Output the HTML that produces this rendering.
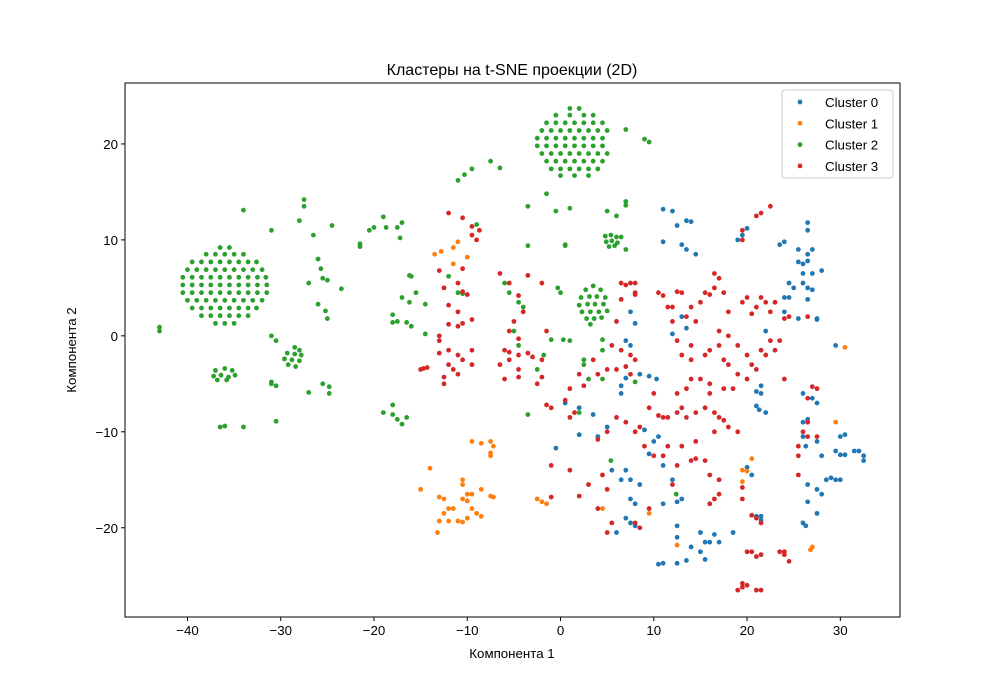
<!DOCTYPE html>
<html><head><meta charset="utf-8"><style>
body{margin:0;background:#fff;}
svg{display:block;font-family:"Liberation Sans","DejaVu Sans",sans-serif;}
</style></head><body>
<svg id="chart" width="1000" height="693" viewBox="0 0 1000 693">
<rect width="1000" height="693" fill="#fff"/>
<text x="512" y="75" text-anchor="middle" font-size="16">Кластеры на t-SNE проекции (2D)</text>
<g id="points"></g>
<rect x="125" y="83" width="775" height="534" fill="none" stroke="#000" stroke-width="1"/>
<g id="xticks"></g>
<g id="yticks"></g>
<text x="512" y="658" text-anchor="middle" font-size="13.3">Компонента 1</text>
<text transform="translate(76,350) rotate(-90)" text-anchor="middle" font-size="13.3">Компонента 2</text>
<g id="legend">
<rect x="782" y="90" width="111" height="88" rx="3" fill="#fff" fill-opacity="0.8" stroke="#ccc"/>
</g>
</svg>
<script>
const xTicks=[-40,-30,-20,-10,0,10,20,30];
const yTicks=[-20,-10,0,10,20];
const seriesNames=["Cluster 0","Cluster 1","Cluster 2","Cluster 3"];
const cluster0="11,13.2 12,13 12.5,11.5 13.5,12 14,11.9 11,9.8 13,9.5 13.5,9 14.5,8.5 12,0.2 13.5,0.8 13,2 7.5,2.5 8,1.3 7,-0.5 7.5,-1 8.5,-4 9.5,-4.2 10.3,-4.5 7,-4.4 6.5,-6 6.5,-5.2 5,-9.5 3.5,-8.2 2,-7.5 0.5,-7 -0.5,-11.7 4,-10.5 2,-10.3 9,-9.8 9.5,-12.3 10.5,-10.5 10,-11 11,-13.5 7,-14 7.5,-15 8.5,-15.5 6.5,-15 5.5,-14 7.5,-17 8,-17.5 7,-19 7.5,-19.5 8,-19.8 6,-20.5 12,-15 12.5,-17.3 13,-17 11,-17.5 12.5,-19.8 12.5,-21 10.5,-23.8 11,-23.7 12.5,-23.7 13.5,-23.4 14,-22 15,-22.5 15.5,-23.3 15.5,-21.5 16,-21.5 15,-20.5 16.5,-20.7 17,-21.5 18.5,-20.5 21,-18.8 21.5,-19.2 21,-7.3 21.3,-7.7 22,-8 21.5,-6 21.5,-5.2 21,-5.8 26,-6 27,-6.5 27.5,-7 26.5,-8.7 26,-9 26,-10.5 26.3,-11.5 27.5,-11 28,-12.5 29.5,-12 30,-12.4 30.5,-12.4 30,-10.5 30.5,-10.3 31.5,-12 32,-12 32.5,-12.5 32.5,-13 26.5,-15.5 27.5,-16 28,-16.5 28.5,-15 29,-14.8 29.5,-15 30,-15 26.5,-17.3 26,-19.5 26.3,-19.8 27.5,-18.5 29.5,-1 27.5,1.7 27.5,1.8 26.5,3.8 26.5,5 27,4.8 26,5.5 26,6.5 27,6.5 28,6.8 26,7.5 26.5,7.8 25.5,7.7 27,9 26.5,8.5 26.5,11.8 26.5,11 24.5,4 24,2.5 24,4 25,5 24.5,5.5 25.5,1.8 24,9.8 23.5,9.5 19.5,10.5 20,11.2 19,10 22,0.5 25.5,9 20.5,-14.5 20,-13.7 21.5,-18.8";
const cluster1="-13.5,8.5 -12.8,8.8 -11.5,9.2 -11,9.8 -11.5,7.5 -10,8.2 -15,-16 -14,-13.8 -13,-16.8 -12.5,-17 -12.5,-18.5 -12,-18 -11.5,-18 -13,-19.3 -13.2,-20.5 -12,-19.3 -11,-19.3 -10.5,-19.4 -10,-19 -10.5,-17 -10,-16.5 -10,-17.2 -9.5,-16.5 -10.5,-15.5 -10.5,-15 -9,-18.5 -9.5,-18 -8.5,-16 -8.5,-18.8 -7.5,-16.7 -7.2,-16.8 -7.5,-12.2 -7.5,-12.5 -7.2,-11.5 -7.5,-11 -8.5,-11.2 -9.5,-11 -2.5,-17 -2,-17.3 -1.5,-17.5 4.5,-18 9.5,-18.5 12.5,-21.8 19.5,-14 19.5,-15.2 20,-14.1 20.5,-12.8 29.5,-9 27,-22 26.8,-22.3 30.5,-1.2";
const cluster2="-36.5,9.2 -35.5,9.2 -38,8.5 -37,8.5 -36,8.5 -35,8.5 -34,8.5 -39.5,7.7 -38.5,7.7 -37.5,7.7 -36.5,7.7 -35.5,7.7 -34.5,7.7 -33.5,7.7 -32.6,7.7 -40,6.9 -39,6.9 -38,6.9 -37,6.9 -36,6.9 -35,6.9 -34,6.9 -33,6.9 -32,6.9 -40.5,6.1 -39.5,6.1 -38.5,6.1 -37.5,6.1 -36.5,6.1 -35.5,6.1 -34.5,6.1 -33.5,6.1 -32.5,6.1 -31.6,6.1 -40.5,5.3 -39.5,5.3 -38.5,5.3 -37.5,5.3 -36.5,5.3 -35.5,5.3 -34.5,5.3 -33.5,5.3 -32.5,5.3 -31.5,5.3 -40.5,4.5 -39.5,4.5 -38.5,4.5 -37.5,4.5 -36.5,4.5 -35.5,4.5 -34.5,4.5 -33.5,4.5 -32.5,4.5 -31.5,4.5 -40,3.7 -39,3.7 -38,3.7 -37,3.7 -36,3.7 -35,3.7 -34,3.7 -33,3.7 -32,3.7 -39.5,2.9 -38.5,2.9 -37.5,2.9 -36.5,2.9 -35.5,2.9 -34.5,2.9 -33.5,2.9 -32.6,2.9 -38.5,2.1 -37.5,2.1 -36.5,2.1 -35.5,2.1 -34.5,2.1 -33.5,2.1 -37,1.3 -36,1.3 -35,1.3 "+
"1,23.7 2,23.7 -0.5,23 1,23 2.5,23 3.5,23 -1.5,22.2 -0.5,22.2 0.5,22.2 1.5,22.2 2.5,22.2 3.5,22.2 4.5,22.2 -2,21.4 -1,21.4 0,21.4 1,21.4 2,21.4 3,21.4 4,21.4 5,21.4 -2.5,20.6 -1.5,20.6 -0.5,20.6 0.5,20.6 1.5,20.6 2.5,20.6 3.5,20.6 4.5,20.6 -2.5,19.8 -1.5,19.8 -0.5,19.8 0.5,19.8 1.5,19.8 2.5,19.8 3.5,19.8 4.5,19.8 -2,19 -1,19 0,19 1,19 2,19 3,19 4,19 5,19 -1.5,18.2 -0.5,18.2 0.5,18.2 1.5,18.2 2.5,18.2 3.5,18.2 4.5,18.2 -1,17.4 0,17.4 1,17.4 2,17.4 3,17.4 4,17.4 0,16.7 1.5,16.7 3,16.7 "+
"3.5,5.2 2.7,4.8 4.3,4.8 2.2,4 3.1,4.1 3.9,4.1 4.8,4 2,3.2 2.9,3.3 3.7,3.3 4.6,3.3 5,2.6 2.3,2.5 3.2,2.5 4.1,2.5 2.8,1.8 3.6,1.8 4.4,1.9 3.2,1.2 "+
"4.8,10.4 5.4,10.5 6,10.3 4.9,9.8 5.5,9.9 6.1,9.7 5.2,9.3 5.8,9.4 "+
"-37,-3.6 -36,-3.4 -35.2,-3.6 -37.2,-4.2 -36.4,-4.1 -35.6,-4.3 -34.9,-4.1 -36.8,-4.6 -35.8,-4.6 "+
"-28.5,-1.2 -28,-1.5 -29.3,-1.8 -28.5,-1.9 -27.8,-2 -29.6,-2.4 -28.8,-2.5 -28,-2.6 -29.2,-3 -28.4,-3.2 "+
"-43,0.5 -43,0.9 -34,13.1 -31,11 -31,0 -30.5,-0.5 -31,-4.8 -30.5,-5.2 -31,-5 -30.5,-8.9 -36,-9.4 -36.5,-9.5 -34,-9.5 -28,12 -27.5,13.5 -27.5,14.2 -26.5,10.5 -26,8 -25.7,7 -25.5,6 -25,5.8 -27,5.5 -24.5,11.5 -23.5,4.9 -26,3.3 -25.2,2.6 -25,1.8 -27,-5.9 -25.5,-5 -24.8,-5.3 -24.8,-6 -21.5,9.3 -21.5,9.6 -20.5,11 -20,11.3 -19,12.4 -18.7,11.3 -17.5,11.3 -17,11.8 -17.2,10.2 -16,6.2 -16.2,6.3 -17,4 -18,2.2 -18,1.4 -17.5,1.5 -16.2,3.5 -15.5,4.5 -14.5,3.3 -14.5,0.2 -16.5,1.4 -16,1 -19,-8 -18,-7.2 -17.5,-8.7 -17,-9.2 -16.5,-8.5 -18,-8.2 -11,16.2 -10.3,16.8 -9.5,17.4 -7.5,18.2 -6.5,17.5 -12,6.2 -11,4.5 -10.5,4.4 -9,11.6 -6,5.5 -5.5,4.5 -4,3 -4.5,3.5 -5,0.5 -4.5,-1 -3.5,9.4 -3.5,13.5 -1.5,14.8 -0.5,13 0.5,9.5 0.5,9.4 1,13.3 -0.3,5 0,4.5 0.3,-0.4 1,-0.5 2.5,-2.5 2.5,-3 3,-4.5 -3.5,-8.2 -1,-0.4 -1.8,-2 -2.5,-3.5 4.5,-0.4 4.5,-1.5 5,13 6,12.5 7,14 7,13.6 6.5,10.3 7,9 9.5,20.2 9,20.5 7,21.5 12.4,-16.5 5.4,-13 4.5,-4.5 8,-4.8 2,-8";
const cluster3="-12,12.8 -10.5,12.3 -9.5,11.4 -9.5,10.5 -8.7,11 -9,10 -10.5,4.6 -11,5.5 -10,4.3 -10.5,7 -12,3.2 -11,2.5 -12,1.2 -11,1 -10.5,1.3 -9.5,1.7 -13,0 -13,-0.5 -12,-1.5 -13,-1.8 -11,-2 -10.5,-2.5 -9.5,-1.5 -9.5,-3 -12,-3 -11.5,-3.5 -11,-4 -12.5,-4.3 -14.7,-3.4 -15,-3.5 -12.5,-5 -6.5,6.5 -5.5,5.5 -4.5,4.2 -4,2.5 -5,1.5 -5.5,0.5 -4.5,-0.3 -5.5,-1.7 -4.5,-2 -3.5,-1.8 -5.5,-2.5 -4.5,-3.5 -4.5,-4.3 -6,-1.5 -6.5,-3 -2,-2.5 -2,-4.3 -2.5,-5 -1.5,-7.2 -1,-7.5 0.5,-6.7 1,-8.5 1.5,-8 2.5,-5.2 3.5,-2.5 4,-4 5,-3.5 2,-4 1,-5.5 5.5,-1 6.5,-1.5 6,-3.5 7,-3.2 7.5,-4 8,-2.5 7.5,-2 6,1.5 6.5,3.8 7.5,5.5 7,5.3 6.5,5.5 8,5.5 8,4.5 8,4.3 10.5,4.5 11,4.2 11.5,3 12.5,4.6 13,4.5 13.5,2 14,3 14.5,1.5 15,3.5 15.5,4.5 16,4.3 16.5,5 16.5,6.5 17,6 17.5,4.5 18,2.5 17,0.5 18,0 19.5,3.5 20,4 20.5,2.3 21,3 21.5,4 22,3.5 22.5,2.5 23,3.5 19.5,11 19.5,10 22.5,13.5 12,1.5 12.5,-0.5 13,-2 14,-1 14,-2.5 15.5,-2 16,-1.5 17,-1 17.5,-2.5 18,-3 19,-1 20,-2 20.5,-3 21,-3.5 22,-2 21.5,-1.5 22.5,-0.5 23,-1.5 20,-4.5 19,-4 18.5,-5.5 17.5,-5.5 16,-5 16,-6 15,-4.5 14,-4.5 13.5,-5.5 12.5,-6 13,-7.5 12.5,-8 11.5,-8.5 10,-6 9.5,-7.5 10.5,-8.3 11,-8.5 13.5,-8.5 14.5,-8 15.5,-7.5 16.5,-8 17,-8.5 17.5,-8.8 18,-9.5 19,-10 16.5,-10 14.5,-11 13,-11.5 11.5,-11.5 11,-12.5 10,-12.5 9,-11.5 8.5,-9.5 8,-10 7,-9 6,-8.5 5,-10 4,-10.8 4.5,-14.5 5,-16 3,-15.5 1,-14 -1,-13.5 2,-16.7 -1,-16.8 5,-20.5 5.5,-19.5 4,-18 8,-19.5 8.5,-20 9.5,-18 12,-15.5 12.5,-13.5 14,-13 14.5,-12.8 15.5,-13 16,-14.5 17,-15 16.5,-17 16,-17.5 17,-16.5 19.5,-15.8 19.5,-17 20.5,-18.7 21.5,-19.5 21,-19 20.5,-22.5 20,-22.5 21,-23 21.5,-22.8 19.5,-25.8 19,-26.5 19.5,-26.2 20,-26 21,-26.5 21.5,-26.5 24,-22.5 24,-22.8 24.5,-23.5 23.5,-22.5 25.5,-14.5 26,-10 26.5,-10.5 25.5,-11.5 25.5,-12.5 26.5,-9 27,-5.3 27.5,-5.5 26.5,-6.5 27.5,-10.5 24,-4.5 24,1.8 24.5,2 26.5,2 12,3 21,12.5 21.5,12.8 23.5,-0.5 -13,6.8 -14.3,-3.3 -6,-4.5 -3.5,6.3 -2,5.5 -1.5,0.5 -12.5,5 -3,-2.2";
const colors=["#1f77b4","#ff7f0e","#2ca02c","#d62728"];
const NS="http://www.w3.org/2000/svg";
const xMin=-46.7,xMax=36.4,yMin=-29.3,yMax=26.35;
const L=125,R=900,T=83,B=617;
function sx(v){return L+(v-xMin)/(xMax-xMin)*(R-L);}
function sy(v){return B-(v-yMin)/(yMax-yMin)*(B-T);}
function parse(s){return s.trim().split(/\s+/).map(p=>p.split(',').map(Number));}
const series=[cluster0,cluster1,cluster2,cluster3].map(parse);
const pg=document.getElementById('points');
series.forEach((pts,ci)=>{
  pts.forEach(([x,y])=>{
    const c=document.createElementNS(NS,'circle');
    c.setAttribute('cx',sx(x));c.setAttribute('cy',sy(y));c.setAttribute('r',2.4);
    c.setAttribute('fill',colors[ci]);
    
    
    pg.appendChild(c);
  });
});
const xg=document.getElementById('xticks');
xTicks.forEach(t=>{
  const x=sx(t);
  const l=document.createElementNS(NS,'line');
  l.setAttribute('x1',x);l.setAttribute('x2',x);l.setAttribute('y1',B);l.setAttribute('y2',B+4);l.setAttribute('stroke','#000');
  
  
  xg.appendChild(l);
  const tx=document.createElementNS(NS,'text');
  tx.setAttribute('x',x);tx.setAttribute('y',B+18);tx.setAttribute('text-anchor','middle');tx.setAttribute('font-size','13.3');
  tx.textContent=t<0?'\u2212'+Math.abs(t):String(t);
  
  
  xg.appendChild(tx);
});
const yg=document.getElementById('yticks');
yTicks.forEach(t=>{
  const y=sy(t);
  const l=document.createElementNS(NS,'line');
  l.setAttribute('x1',L-4);l.setAttribute('x2',L);l.setAttribute('y1',y);l.setAttribute('y2',y);l.setAttribute('stroke','#000');
  
  
  yg.appendChild(l);
  const tx=document.createElementNS(NS,'text');
  tx.setAttribute('x',L-7);tx.setAttribute('y',y+5);tx.setAttribute('text-anchor','end');tx.setAttribute('font-size','13.3');
  tx.textContent=t<0?'\u2212'+Math.abs(t):String(t);
  
  
  yg.appendChild(tx);
});
const lg=document.getElementById('legend');
seriesNames.forEach((n,i)=>{
  const y=102+i*21.3;
  const c=document.createElementNS(NS,'circle');
  c.setAttribute('cx',800);c.setAttribute('cy',y);c.setAttribute('r',2.4);c.setAttribute('fill',colors[i]);
  
  
  lg.appendChild(c);
  const t=document.createElementNS(NS,'text');
  t.setAttribute('x',825);t.setAttribute('y',y+5);t.setAttribute('font-size','13.3');t.textContent=n;
  
  
  lg.appendChild(t);
});
</script>
</body></html>
